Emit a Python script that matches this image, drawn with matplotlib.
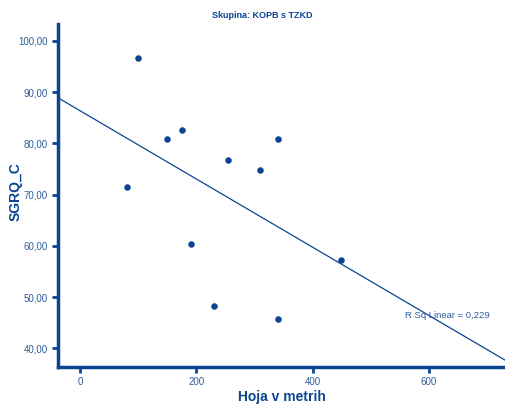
import numpy as np
import matplotlib
matplotlib.use("Agg")
import matplotlib.pyplot as plt
from matplotlib.ticker import FuncFormatter

# podatki odcitani s slike
hoja = [100, 80, 150, 176, 255, 310, 340, 190, 230, 340, 449]
sgrq = [96.6, 71.4, 80.8, 82.6, 76.8, 74.9, 80.9, 60.3, 48.3, 45.7, 57.3]
x_ticks = [0, 200, 400, 600]
y_ticks = [40, 50, 60, 70, 80, 90, 100]
r_sq_text = "R Sq Linear = 0,229"

barva = '#0b4592'
plt.rcParams['font.family'] = ['Liberation Sans', 'DejaVu Sans']

fig = plt.figure(figsize=(5.05, 4.05), dpi=100)
ax = fig.add_axes([0.115, 0.094, 0.885, 0.847])

ax.scatter(hoja, sgrq, s=22, color=barva, zorder=3, linewidths=0)

# linearna regresija
k, n = np.polyfit(hoja, sgrq, 1)
xl = np.array([-38, 731])
ax.plot(xl, k * xl + n, color=barva, lw=0.9)

ax.set_xlim(-38, 731)
ax.set_ylim(36.4, 103.3)
ax.set_xticks(x_ticks)
ax.set_yticks(y_ticks)
ax.yaxis.set_major_formatter(FuncFormatter(lambda v, p: f"{v:.2f}".replace('.', ',')))

for s in ['top', 'right']:
    ax.spines[s].set_visible(False)
for s in ['left', 'bottom']:
    ax.spines[s].set_color(barva)
    ax.spines[s].set_linewidth(2.5)
ax.tick_params(colors=barva, labelcolor='#2f5d9c', labelsize=7, length=4, width=2)

ax.set_xlabel("Hoja v metrih", fontsize=10, fontweight='bold', color=barva)
ax.set_ylabel("SGRQ_C", fontsize=10, fontweight='bold', color=barva)
ax.xaxis.set_label_coords(0.5, -0.068)
ax.yaxis.set_label_coords(-0.08, 0.51)
fig.text(0.52, 0.962, "Skupina: KOPB s TZKD", fontsize=6.5, fontweight='bold',
         color=barva, ha='center', va='center')
ax.text(0.966, 0.149, r_sq_text, transform=ax.transAxes, fontsize=6.8,
        color='#2f5d9c', ha='right', va='center')

fig.savefig("out.png", dpi=100)
